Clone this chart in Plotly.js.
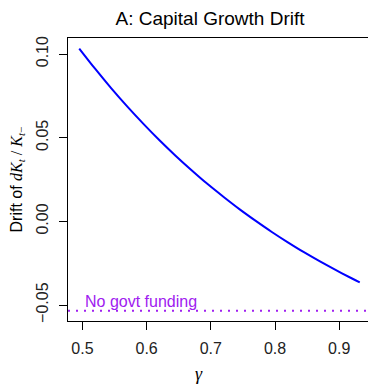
<!DOCTYPE html>
<html>
<head>
<meta charset="utf-8">
<script src="https://cdn.plot.ly/plotly-3.0.1.min.js"></script>
<style>
  html, body { margin: 0; padding: 0; background: #fff; overflow: hidden; }
  #chart { width: 372px; height: 384px; }
</style>
</head>
<body>
<div id="chart"></div>
<script>
// Government funding share
const gamma = [0.495, 0.52, 0.545, 0.57, 0.595, 0.62, 0.645, 0.67, 0.695, 0.72,
               0.745, 0.77, 0.795, 0.82, 0.845, 0.87, 0.895, 0.92, 0.932];
// Drift of capital growth at each gamma
const drift = [0.1033, 0.0911, 0.0795, 0.0686, 0.0583, 0.0485, 0.0393, 0.0306, 0.0223, 0.0146,
               0.0072, 0.0003, -0.0063, -0.0125, -0.0184, -0.0239, -0.0291, -0.0341, -0.0364];
// Drift level without government funding
const noFundingDrift = -0.0534;
const xTicks = [0.5, 0.6, 0.7, 0.8, 0.9];
const yTicks = [-0.05, 0.00, 0.05, 0.10];
const yTickText = ['\u22120.05', '0.00', '0.05', '0.10'];

const sans = 'Liberation Sans, Arial, Helvetica, sans-serif';
const serif = 'Liberation Serif, Times New Roman, serif';
const purple = '#A020F0';

const traces = [{
  x: gamma,
  y: drift,
  type: 'scatter',
  mode: 'lines',
  line: { color: '#0000FF', width: 2, shape: 'spline', smoothing: 1 },
  hoverinfo: 'skip',
  showlegend: false
}];

const layout = {
  width: 372,
  height: 384,
  margin: { l: 68, r: 1, t: 38, b: 63 },
  paper_bgcolor: '#fff',
  plot_bgcolor: '#fff',
  font: { family: sans, size: 16, color: '#000' },
  title: {
    text: 'A: Capital Growth Drift',
    font: { family: sans, size: 19, color: '#000' },
    xref: 'container', yref: 'container',
    x: 210 / 372, xanchor: 'center',
    y: 1 - 18 / 384, yanchor: 'middle'
  },
  xaxis: {
    range: [0.4775, 0.9495],
    tickvals: xTicks,
    ticktext: xTicks.map(v => v.toFixed(1)),
    ticks: 'outside', ticklen: 8, tickwidth: 1, tickcolor: '#000',
    showline: true, linecolor: '#000', linewidth: 1.3, mirror: true,
    showgrid: false, zeroline: false,
    tickfont: { family: sans, size: 16, color: '#222' },
    ticklabelstandoff: 4
  },
  yaxis: {
    range: [-0.0595, 0.1096],
    tickvals: yTicks,
    ticktext: yTickText,
    tickangle: -90,
    ticks: 'outside', ticklen: 8, tickwidth: 1, tickcolor: '#000',
    showline: true, linecolor: '#000', linewidth: 1.3, mirror: true,
    showgrid: false, zeroline: false,
    tickfont: { family: sans, size: 16, color: '#222' },
    ticklabelstandoff: 4
  },
  shapes: [{
    type: 'line', xref: 'paper', x0: 0, x1: 1,
    yref: 'y', y0: noFundingDrift, y1: noFundingDrift,
    line: { color: purple, width: 2, dash: '2px,6px' }
  }],
  annotations: [
    {
      text: 'No govt funding',
      x: 0.505, y: noFundingDrift, xref: 'x', yref: 'y',
      xanchor: 'left', yanchor: 'bottom', yshift: -1, xshift: -3,
      showarrow: false,
      font: { family: sans, size: 16, color: purple }
    },
    {
      text: 'Drift of <span style="font-family:' + serif + '"><i>dK</i><sub><i>t</i></sub> / <i>K</i><sub><i>t</i>\u2212</sub></span>',
      xref: 'paper', yref: 'paper',
      x: (17 - 68) / 303, y: 0.5,
      xanchor: 'center', yanchor: 'middle',
      textangle: -90, showarrow: false,
      font: { family: sans, size: 16, color: '#000' }
    },
    {
      text: '<i>\u03B3</i>',
      xref: 'paper', yref: 'paper',
      x: (199 - 68) / 303, y: 0, yshift: -53,
      xanchor: 'center', yanchor: 'middle',
      showarrow: false,
      font: { family: serif, size: 18, color: '#000' }
    }
  ]
};

Plotly.newPlot('chart', traces, layout, { staticPlot: true, displayModeBar: false });
</script>
</body>
</html>
